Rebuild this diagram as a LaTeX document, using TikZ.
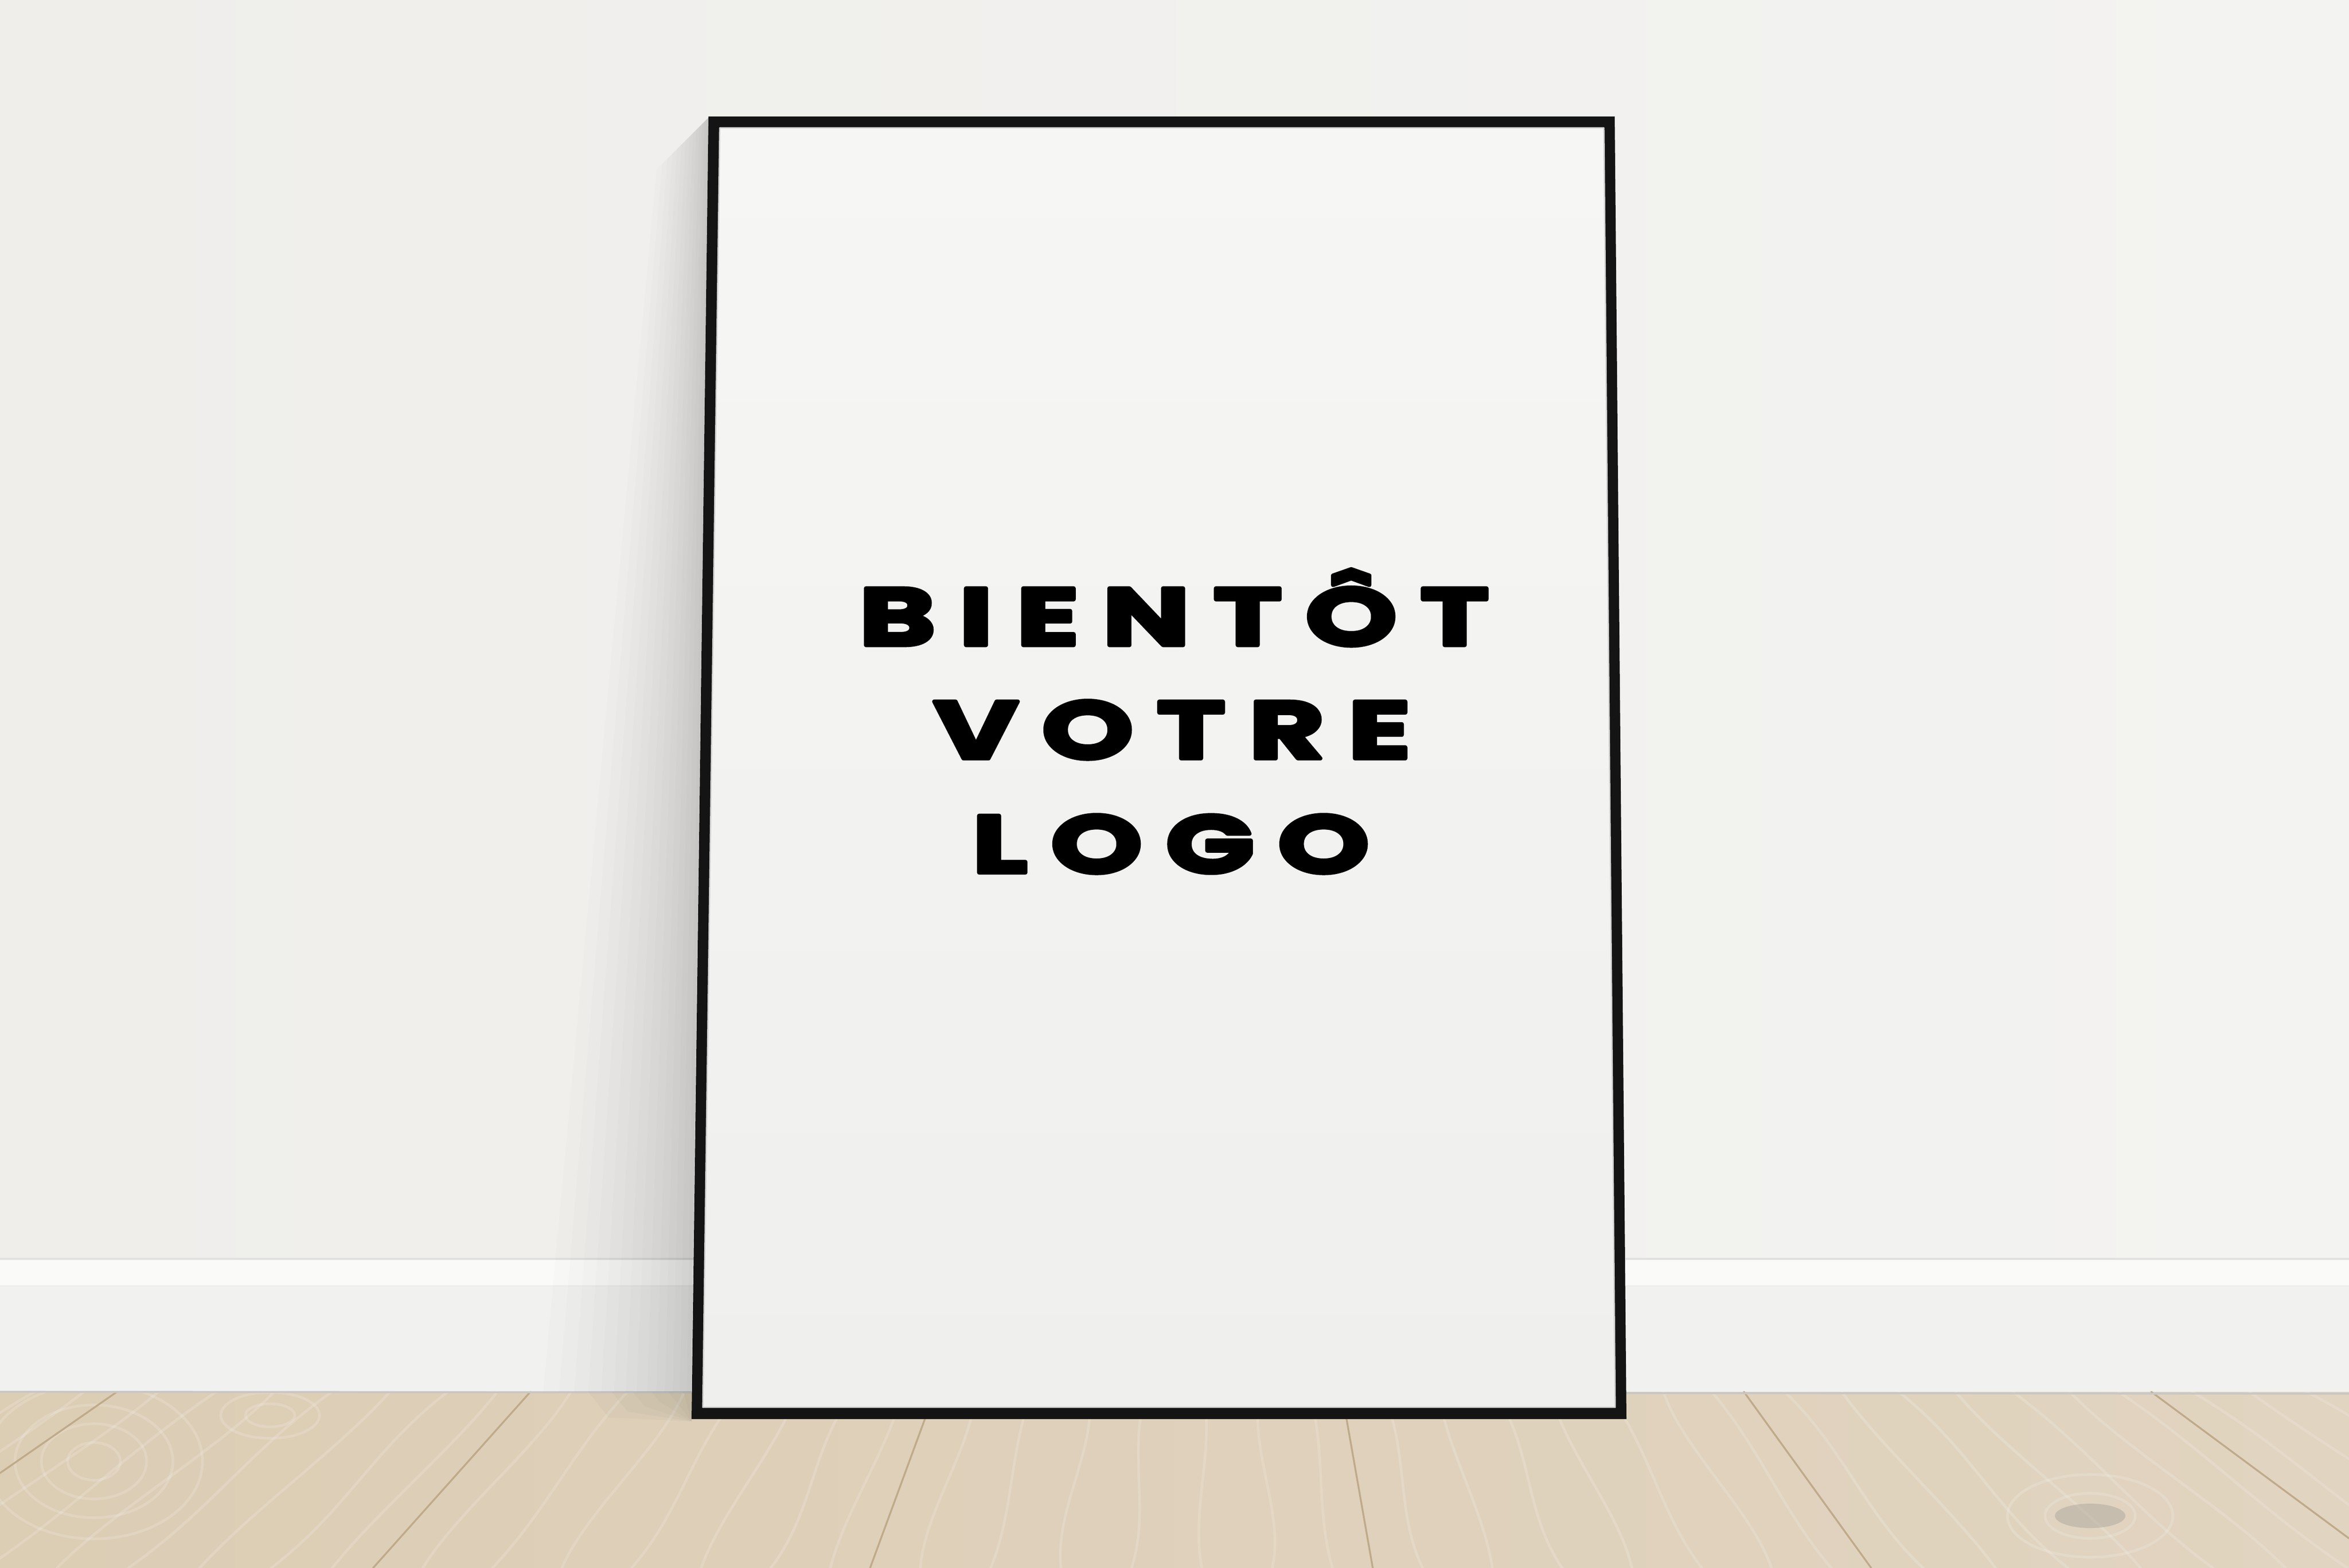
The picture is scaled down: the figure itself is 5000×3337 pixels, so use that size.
\documentclass[tikz,border=0pt]{standalone}
\usepackage{fontspec}
\newfontfamily\logofont{Poppins}[FakeStretch=1.45, FakeBold=5, LetterSpace=28]
\definecolor{wallc}{HTML}{EFEEEB}
\definecolor{wallr}{HTML}{F3F3F1}
\definecolor{skirtc}{HTML}{F1F1F0}
\definecolor{moldc}{HTML}{FAFAF9}
\definecolor{floorl}{HTML}{DCCDB5}
\definecolor{floorr}{HTML}{E1D4C0}
\definecolor{seamc}{HTML}{BFAA8A}
\definecolor{matt}{HTML}{F6F6F5}
\definecolor{matb}{HTML}{EFEFEE}
\definecolor{knotc}{HTML}{A9A49B}
\tikzset{
  framec/.style={fill=black!92},
  seam/.style={draw=seamc, line width=1.1pt},
  grain/.style={draw=white, opacity=0.16, line width=1.6pt},
  logotext/.style={font=\logofont\bfseries\fontsize{49}{59}\selectfont, text=black, inner sep=0pt, anchor=base},
}
\begin{document}
\begin{tikzpicture}[x=0.01cm,y=-0.01cm,line join=round,line cap=round]
\useasboundingbox (0,0) rectangle (5000,3337);
% wall and skirting board
\shade[left color=wallc, right color=wallr] (0,0) rectangle (5000,2962);
\fill[skirtc] (0,2680) rectangle (5000,2962);
\fill[moldc] (0,2682) rectangle (5000,2735);
\draw[draw=black!12, line width=1.2pt] (0,2679) -- (5000,2679);
\draw[draw=black!7, line width=0.8pt] (0,2737) -- (5000,2737);
% floor
\shade[left color=floorl, right color=floorr] (0,2962) rectangle (5000,3337);
\begin{scope}
  \clip (0,2962) rectangle (5000,3337);
  \foreach \a/\b/\c/\d in {-630/249/-1170/-291, 249/1129/-291/794, 1129/1990/794/1852,
      1990/2856/1852/2922, 2856/3712/2922/3983, 3712/4579/3983/5085, 4579/5450/5085/6200}{
    \foreach \t/\w in {0.1/30, 0.24/-20, 0.38/35, 0.52/-30, 0.66/25, 0.8/-35, 0.92/20}{
      \pgfmathsetmacro\tx{\a+\t*(\b-\a)}
      \pgfmathsetmacro\bx{\c+\t*(\d-\c)}
      \draw[grain] (\tx,2962) .. controls ({\tx+(\bx-\tx)/3+\w},3085) and ({\tx+2*(\bx-\tx)/3-\w},3215) .. (\bx,3337);
    }
  }
  % knots
  \foreach \r in {40,80,120,165}
    \draw[grain] (200,3110) ellipse ({\r*1.4} and \r);
  \foreach \r in {35,70}
    \draw[grain] (575,3012) ellipse ({\r*1.5} and {\r*0.7});
  \fill[knotc, opacity=0.45] (4449,3226) ellipse (75 and 26);
  \foreach \r in {60,110}
    \draw[grain] (4449,3226) ellipse ({\r*1.6} and {\r*0.8});
\end{scope}
\foreach \xa/\ya/\xb/\yb in {249/2962/0/3135, 1129/2962/794/3337, 1990/2962/1852/3337,
    2856/2962/2922/3337, 3712/2962/3983/3337, 4579/2962/5000/3274}
  \draw[seam] (\xa,\ya) -- (\xb,\yb);
\draw[draw=black!22, line width=1.2pt] (0,2962) -- (5000,2966);
% shadow of the frame
\foreach \w in {10,25,40,57,75,95,117,140,165,192,220,250,282,316}
  \fill[black, opacity=0.011] ({1508-\w*0.35},{250+\w*0.35}) -- (1508,250) -- (1472,2962) -- ({1472-\w},2962) -- cycle;
\foreach \w in {20,50,85,125,170,220}
  \fill[black, opacity=0.018] ({1472-\w},2962) -- (1472,2962) -- (1472,3025) -- ({1472-\w*0.8},{2962+\w*0.25}) -- cycle;
% frame
\coordinate (otl) at (1508,248);
\coordinate (otr) at (3437,248);
\coordinate (obr) at (3462,3020);
\coordinate (obl) at (1472,3020);
\coordinate (itl) at (1532,272);
\coordinate (itr) at (3414,272);
\coordinate (ibr) at (3438,2995);
\coordinate (ibl) at (1496,2995);
\fill[framec] (otl) -- (otr) -- (obr) -- (obl) -- cycle;
\shade[top color=matt, bottom color=matb] (itl) -- (itr) -- (ibr) -- (ibl) -- cycle;
\draw[draw=black!18, line width=0.8pt] (itl) -- (itr) -- (ibr) -- (ibl) -- cycle;
% text
\node[logotext] (bientot) at (2499,1373) {BIENTÔT};
\node[logotext] (votre) at (2495,1614) {VOTRE};
\node[logotext] (logo) at (2492,1857) {LOGO};
\end{tikzpicture}
\end{document}
